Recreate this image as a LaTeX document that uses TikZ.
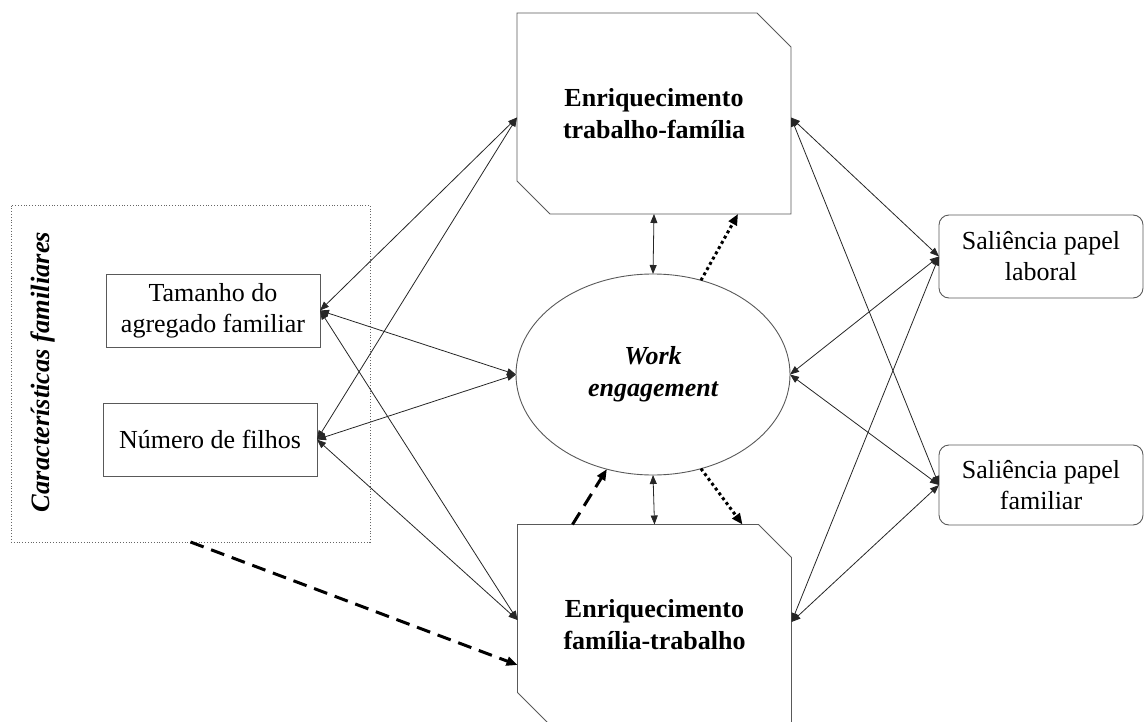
\documentclass[tikz,border=0pt]{standalone}
\usepackage{fontspec}
\setmainfont{Liberation Serif}
\usetikzlibrary{arrows.meta,shapes.geometric}

\begin{document}
\begin{tikzpicture}[x=1pt, y=-1pt,
    font=\fontsize{26}{31}\selectfont,
    caixa/.style={draw=black!65, line width=0.9pt, align=center, inner sep=0pt, outer sep=0pt},
    enriq/.style={align=center, inner sep=0pt, outer sep=0pt, minimum width=274pt, minimum height=201pt, font=\fontsize{26}{32}\selectfont\bfseries},
    contorno/.style={draw=black!65, line width=0.9pt},
    saliencia/.style={caixa, rounded corners=10pt, minimum width=204pt},
    seta/.style={{Triangle[length=9pt,width=7pt]}-{Triangle[length=9pt,width=7pt]}, line width=0.8pt, black!85},
    tracejada/.style={-{Triangle[length=11pt,width=9pt]}, line width=3pt, dash pattern=on 14pt off 8pt},
    pontilhada/.style={-{Triangle[length=11pt,width=9pt]}, line width=3pt, dash pattern=on 3pt off 3pt}
]
    \useasboundingbox (0,0) rectangle (1145,722);

    % caracteristicas familiares
    \node[draw=black!60, dotted, line width=0.8pt, minimum width=359pt, minimum height=337pt, outer sep=0pt] (carac) at (190.5,373.5) {};
    \node[rotate=90, font=\fontsize{26.5}{30}\selectfont\bfseries\itshape] (caractxt) at (43,372) {Características familiares};
    \node[caixa, minimum width=214pt, minimum height=73pt] (tam) at (213,310.5) {Tamanho do\\agregado familiar};
    \node[caixa, minimum width=214pt, minimum height=73pt] (num) at (210,439.5) {Número de filhos};

    % enriquecimento
    \node[enriq] (etf) at (654,113.5) {Enriquecimento\\trabalho-família};
    \draw[contorno] (etf.north west) -- ([xshift=-34pt]etf.north east) -- ([yshift=-34pt]etf.north east)
        -- (etf.south east) -- ([xshift=33pt]etf.south west) -- ([yshift=33pt]etf.south west) -- cycle;
    \node[enriq] (eft) at (654.5,625) {Enriquecimento\\família-trabalho};
    \draw[contorno] (eft.north west) -- ([xshift=-33pt]eft.north east) -- ([yshift=-33pt]eft.north east)
        -- (eft.south east) -- ([xshift=33pt]eft.south west) -- ([yshift=33pt]eft.south west) -- cycle;

    % work engagement
    \node[ellipse, caixa, minimum width=274pt, minimum height=201pt, font=\fontsize{26}{32}\selectfont\bfseries\itshape] (we) at (653,374.5) {Work\\engagement};

    % saliencia
    \node[saliencia, minimum height=83pt] (sl) at (1041,256.5) {Saliência papel\\laboral};
    \node[saliencia, minimum height=80pt] (sf) at (1041,485) {Saliência papel\\familiar};

    % ligacoes esquerda
    \draw[seta] (tam.east) -- ([yshift=-4pt]etf.west);
    \draw[seta] (num.east) -- ([yshift=-4pt]etf.west);
    \draw[seta] (tam.east) -- (we.west);
    \draw[seta] (num.east) -- (we.west);
    \draw[seta] (tam.east) -- ([yshift=5pt]eft.west);
    \draw[seta] (num.east) -- ([yshift=5pt]eft.west);
    \draw[tracejada] (carac.south) -- ([yshift=-40pt]eft.west);

    % ligacoes centro
    \draw[seta] (etf.south) -- (we.north);
    \draw[seta] (we.south) -- (eft.north);
    \draw[pontilhada] (we.63) -- ([xshift=84pt]etf.south);
    \draw[tracejada] ([xshift=-82pt]eft.north) -- (we.244);
    \draw[pontilhada] (we.297) -- ([xshift=88pt]eft.north);

    % ligacoes direita
    \draw[seta] ([yshift=-4pt]etf.east) -- (sl.west);
    \draw[seta] ([yshift=-4pt]etf.east) -- (sf.west);
    \draw[seta] (we.east) -- (sl.west);
    \draw[seta] (we.east) -- (sf.west);
    \draw[seta] ([yshift=3pt]eft.east) -- (sl.west);
    \draw[seta] ([yshift=3pt]eft.east) -- (sf.west);
\end{tikzpicture}
\end{document}
